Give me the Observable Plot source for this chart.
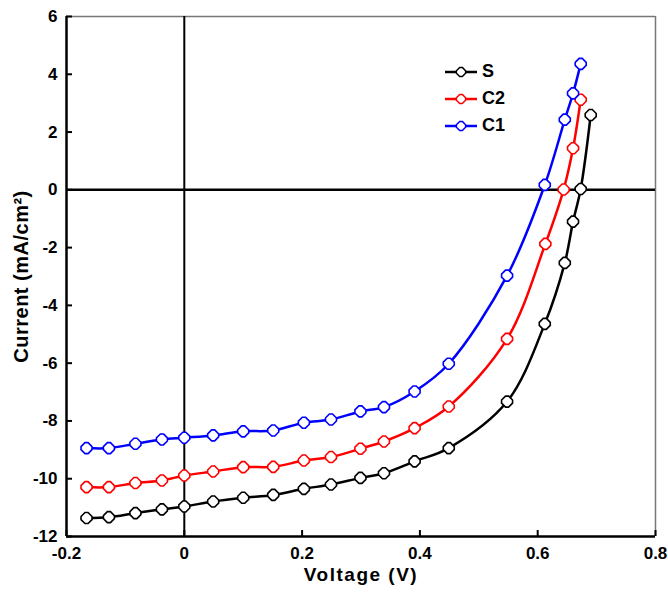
<!DOCTYPE html>
<html><head><meta charset="utf-8">
<script src="https://cdn.jsdelivr.net/npm/d3@7"></script>
<script src="https://cdn.jsdelivr.net/npm/@observablehq/plot@0.6"></script>
<style>
body{margin:0;background:#fff;}
#wrap{position:relative;width:668px;height:594px;font-family:Arial,"Liberation Sans",sans-serif;}
#legend{position:absolute;left:444px;top:58px;}
#legend div{display:flex;align-items:center;height:27px;font-weight:bold;font-size:18px;}
#legend svg{margin-right:4px;}
</style></head><body><div id="wrap"></div>
<script>
const seriesNames = ["S", "C2", "C1"];
const seriesColors = ["#000000", "#ff0000", "#0000ff"];

const voltageS  = [-0.166,-0.128,-0.083,-0.038,0,0.049,0.1,0.151,0.203,0.249,0.299,0.339,0.391,0.449,0.548,0.612,0.646,0.660,0.673,0.690];
const currentS  = [-11.36,-11.33,-11.19,-11.06,-10.96,-10.79,-10.66,-10.56,-10.35,-10.20,-9.97,-9.81,-9.40,-8.94,-7.33,-4.64,-2.53,-1.10,0.03,2.59];

const voltageC2 = [-0.166,-0.128,-0.083,-0.038,0,0.049,0.1,0.151,0.203,0.249,0.299,0.339,0.391,0.449,0.548,0.613,0.644,0.660,0.673];
const currentC2 = [-10.29,-10.29,-10.15,-10.06,-9.89,-9.75,-9.60,-9.59,-9.37,-9.25,-8.96,-8.71,-8.25,-7.50,-5.16,-1.87,0.01,1.44,3.12];

const voltageC1 = [-0.166,-0.128,-0.083,-0.038,0,0.049,0.1,0.151,0.203,0.249,0.299,0.339,0.391,0.449,0.548,0.612,0.646,0.660,0.673];
const currentC1 = [-8.94,-8.94,-8.79,-8.64,-8.58,-8.50,-8.36,-8.33,-8.06,-7.95,-7.67,-7.52,-6.98,-6.02,-2.97,0.17,2.43,3.34,4.36];

const xTicks = [-0.2, 0, 0.2, 0.4, 0.6, 0.8];
const yTicks = [-12, -10, -8, -6, -4, -2, 0, 2, 4, 6];
const xDomain = [-0.2, 0.8];
const yDomain = [-12, 6];
const xLabel = "Voltage (V)";
const yLabel = "Current (mA/cm²)";

const seriesVoltage = [voltageS, voltageC2, voltageC1];
const seriesCurrent = [currentS, currentC2, currentC1];
const data = [];
seriesNames.forEach((name, i) => {
  seriesVoltage[i].forEach((v, j) => data.push({series: name, v, c: seriesCurrent[i][j]}));
});

// blunted diamond marker
const marker = {
  draw(ctx, size) {
    const r = Math.sqrt(size / Math.PI);
    const a = r * 0.28;
    ctx.moveTo(a, -r); ctx.lineTo(r, -a); ctx.lineTo(r, a); ctx.lineTo(a, r);
    ctx.lineTo(-a, r); ctx.lineTo(-r, a); ctx.lineTo(-r, -a); ctx.lineTo(-a, -r);
    ctx.closePath();
  }
};

const fmt = d => String(d);

const chart = Plot.plot({
  width: 668,
  height: 594,
  marginLeft: 66,
  marginRight: 13,
  marginTop: 16,
  marginBottom: 58,
  style: {fontFamily: "Arial, 'Liberation Sans', sans-serif", fontSize: "17px", fontWeight: "bold", background: "#fff", color: "#000"},
  x: {domain: xDomain, axis: null},
  y: {domain: yDomain, axis: null},
  color: {domain: seriesNames, range: seriesColors},
  marks: [
    Plot.ruleX([xDomain[1]], {stroke: "#777", strokeWidth: 1.5}),
    Plot.ruleY([yDomain[1]], {stroke: "#777", strokeWidth: 1.5}),
    Plot.ruleY([0], {stroke: "#000", strokeWidth: 2.5}),
    Plot.ruleX([0], {stroke: "#000", strokeWidth: 2}),
    Plot.ruleX([xDomain[0]], {stroke: "#000", strokeWidth: 2.5}),
    Plot.ruleY([yDomain[0]], {stroke: "#000", strokeWidth: 2.5}),
    Plot.axisX(xTicks, {anchor: "bottom", tickSize: -6, strokeWidth: 2, fill: "none", label: null}),
    Plot.axisY(yTicks, {anchor: "left", tickSize: -6, strokeWidth: 2, fill: "none", label: null}),
    Plot.axisX(xTicks, {anchor: "bottom", tickSize: 0, tickPadding: 10, tickFormat: fmt, label: null, fontSize: 17, fontWeight: "bold"}),
    Plot.axisY(yTicks, {anchor: "left", tickSize: 0, tickPadding: 9, tickFormat: fmt, label: null, fontSize: 17, fontWeight: "bold"}),
    Plot.line(data, {x: "v", y: "c", z: "series", stroke: "series", strokeWidth: 2.5, curve: "catmull-rom"}),
    Plot.dot(data, {x: "v", y: "c", z: "series", stroke: "series", fill: "#fff", symbol: marker, r: 5.5, strokeWidth: 1.6}),
    Plot.text([xLabel], {frameAnchor: "bottom", textAnchor: "middle", lineAnchor: "middle", dy: 38, fontSize: 19, fontWeight: "bold"}),
    Plot.text([yLabel], {frameAnchor: "left", textAnchor: "middle", lineAnchor: "middle", rotate: -90, dx: -45, fontSize: 20, fontWeight: "bold"})
  ]
});

const wrap = document.getElementById("wrap");
wrap.appendChild(chart);
// widen axis labels slightly like the reference lettering
chart.querySelectorAll("text").forEach(t => {
  if (t.textContent === xLabel) t.setAttribute("letter-spacing", "1.5");
  if (t.textContent === yLabel) t.setAttribute("letter-spacing", "0.5");
});

// legend overlay
const legend = document.createElement("div");
legend.id = "legend";
seriesNames.forEach((name, i) => {
  const row = document.createElement("div");
  const col = seriesColors[i];
  row.innerHTML = `<svg width="34" height="12" viewBox="-17 -6 34 12"><line x1="-16" x2="16" y1="0" y2="0" stroke="${col}" stroke-width="2.5"/><path d="M1.3,-4.6L4.6,-1.3L4.6,1.3L1.3,4.6L-1.3,4.6L-4.6,1.3L-4.6,-1.3L-1.3,-4.6Z" fill="#fff" stroke="${col}" stroke-width="1.5"/></svg><span>${name}</span>`;
  legend.appendChild(row);
});
wrap.appendChild(legend);
</script>
</body></html>
